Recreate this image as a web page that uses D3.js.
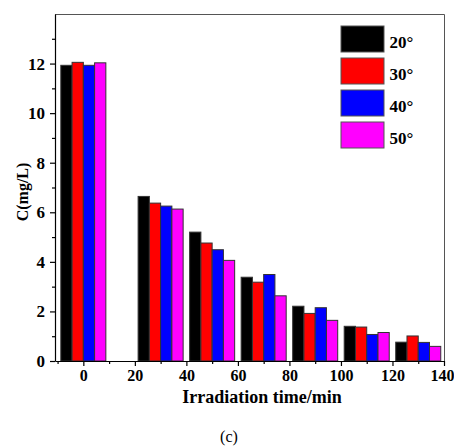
<!DOCTYPE html>
<html>
  <head>
    <meta charset="utf-8">
    <title>Concentration vs irradiation time</title>
    <script src="https://d3js.org/d3.v7.min.js"></script>
    <style>
      body { margin: 0; background: #fff; }
      svg { display: block; }
      text { font-family: "Liberation Serif", "Times New Roman", serif; }
    </style>
  </head>
  <body>
    <svg width="454" height="447"></svg>
    <script>
      // data
      var times = [0, 30, 50, 70, 90, 110, 130];
      var seriesNames = ["20°", "30°", "40°", "50°"];
      var seriesColors = ["#000000", "#ff0000", "#0000ff", "#ff00ff"];
      var c20 = [11.93, 6.64, 5.20, 3.38, 2.21, 1.40, 0.76];
      var c30 = [12.05, 6.37, 4.76, 3.18, 1.92, 1.37, 1.01];
      var c40 = [11.93, 6.25, 4.49, 3.49, 2.15, 1.07, 0.75];
      var c50 = [12.03, 6.13, 4.06, 2.63, 1.64, 1.15, 0.59];
      var series = [c20, c30, c40, c50];
      var xTicks = [0, 20, 40, 60, 80, 100, 120, 140];
      var xMinor = [-10, 10, 30, 50, 70, 90, 110, 130];
      var yTicks = [0, 2, 4, 6, 8, 10, 12];
      var yMinor = [1, 3, 5, 7, 9, 11, 13];

      var margin = {left: 55, top: 14, right: 10, bottom: 86};
      var width = 454, height = 447;
      var svg = d3.select("svg");

      var x = d3.scaleLinear().domain([-11, 140]).range([margin.left, width - margin.right]);
      var y = d3.scaleLinear().domain([0, 14]).range([height - margin.bottom, margin.top]);
      var barW = 4.37; // in minutes

      // bars
      series.forEach(function(vals, i) {
        svg.append("g")
          .selectAll("rect")
          .data(vals)
          .enter()
          .append("rect")
            .attr("x", function(d, j) { return x(times[j] + (i - 2) * barW); })
            .attr("y", function(d) { return y(d); })
            .attr("width", x(barW) - x(0))
            .attr("height", function(d) { return y(0) - y(d); })
            .attr("fill", seriesColors[i])
            .attr("stroke", "#333")
            .attr("stroke-width", 1);
      });

      // frame top / right
      svg.append("path")
        .attr("d", "M" + margin.left + "," + (margin.top + 0.5) + "H" + (width - margin.right + 0.5) + "V" + y(0))
        .attr("fill", "none")
        .attr("stroke", "#555")
        .attr("stroke-width", 1);

      // axes
      svg.append("g")
        .attr("class", "xaxis")
        .attr("transform", "translate(0," + y(0) + ")")
        .call(d3.axisBottom(x).tickValues(xTicks).tickSize(5).tickSizeOuter(0).tickPadding(4));
      svg.append("g")
        .attr("transform", "translate(0," + y(0) + ")")
        .call(d3.axisBottom(x).tickValues(xMinor).tickSize(3).tickFormat("").tickSizeOuter(0))
        .select(".domain").remove();

      svg.append("g")
        .attr("class", "yaxis")
        .attr("transform", "translate(" + margin.left + ",0)")
        .call(d3.axisLeft(y).tickValues(yTicks).tickSize(5).tickSizeOuter(0).tickPadding(5));
      svg.append("g")
        .attr("transform", "translate(" + margin.left + ",0)")
        .call(d3.axisLeft(y).tickValues(yMinor).tickSize(3).tickFormat("").tickSizeOuter(0))
        .select(".domain").remove();

      svg.selectAll(".tick line, .domain").attr("stroke", "#000").attr("stroke-width", 1.2);
      svg.selectAll(".tick text")
        .attr("font-family", "Liberation Serif")
        .attr("font-weight", "bold")
        .attr("fill", "#000");
      svg.selectAll(".xaxis .tick text").attr("font-size", 16);
      svg.selectAll(".yaxis .tick text").attr("font-size", 17);
      // last x label sits on the right edge; nudge it in so it is not clipped
      svg.selectAll(".xaxis .tick text")
        .filter(function(d) { return d === 140; })
        .attr("dx", -2);

      // axis titles
      svg.append("text")
        .attr("x", 262)
        .attr("y", 403)
        .attr("text-anchor", "middle")
        .attr("font-size", 18)
        .attr("font-weight", "bold")
        .text("Irradiation time/min");

      svg.append("text")
        .attr("transform", "translate(28,192) rotate(-90)")
        .attr("text-anchor", "middle")
        .attr("font-size", 16)
        .attr("font-weight", "bold")
        .text("C(mg/L)");

      svg.append("text")
        .attr("x", 229)
        .attr("y", 442)
        .attr("text-anchor", "middle")
        .attr("font-size", 16)
        .text("(c)");

      // legend
      var legend = svg.append("g").attr("transform", "translate(341,26)");
      seriesNames.forEach(function(name, i) {
        var g = legend.append("g").attr("transform", "translate(0," + (i * 32) + ")");
        g.append("rect")
          .attr("width", 43)
          .attr("height", 26)
          .attr("fill", seriesColors[i])
          .attr("stroke", "#555")
          .attr("stroke-width", 1);
        g.append("text")
          .attr("x", 48.5)
          .attr("y", 22)
          .attr("font-size", 17)
          .attr("font-weight", "bold")
          .text(name);
      });
    </script>
  </body>
</html>
